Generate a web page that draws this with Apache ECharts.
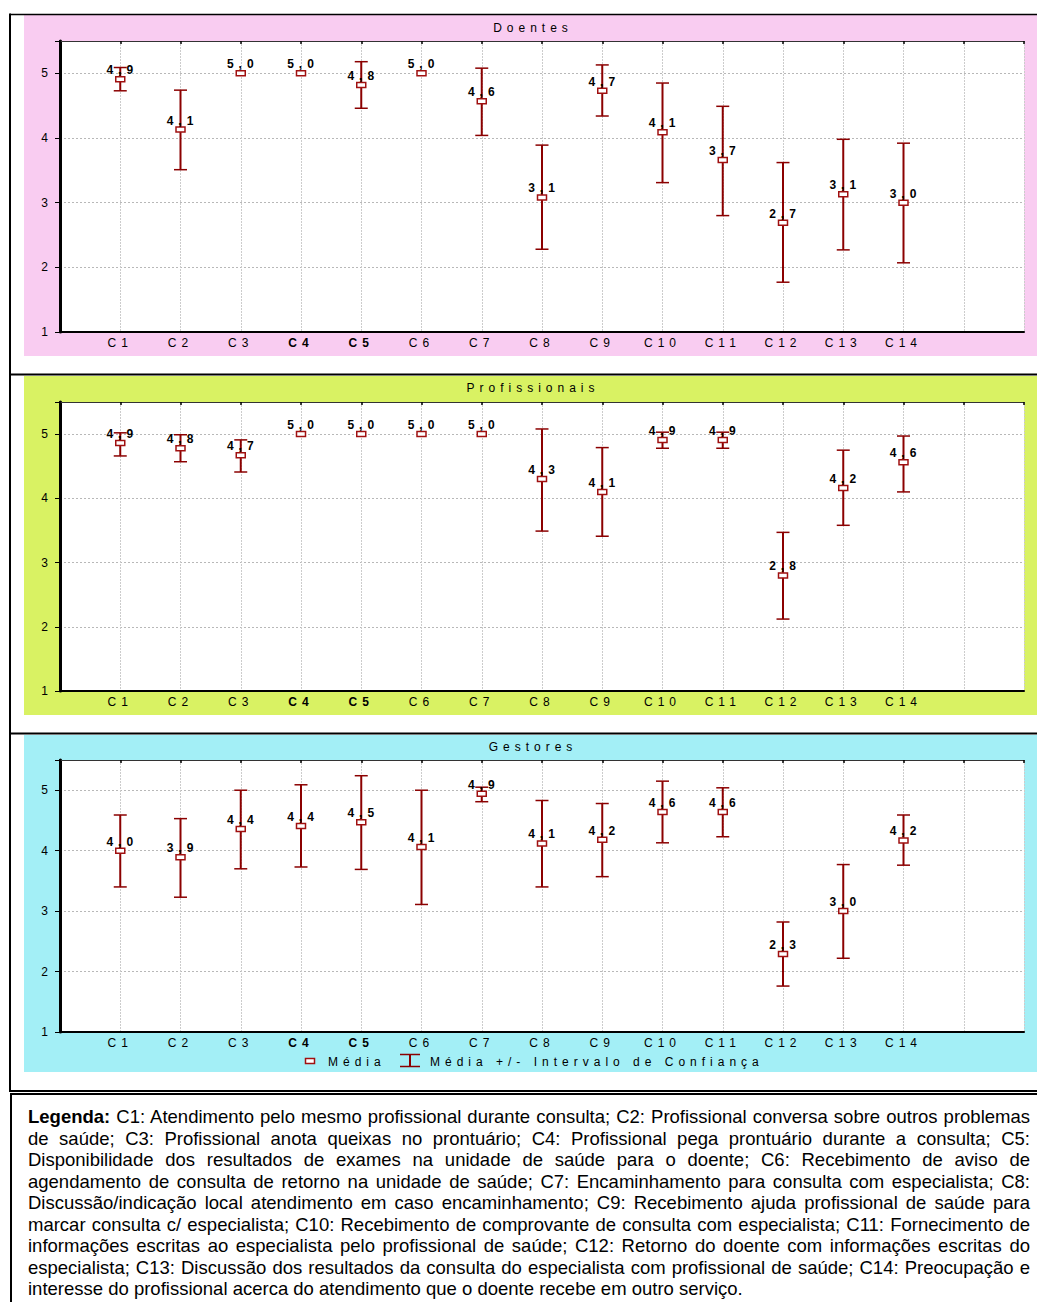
<!DOCTYPE html>
<html>
<head>
<meta charset="utf-8">
<script src="https://cdn.jsdelivr.net/npm/echarts@6/dist/echarts.min.js"></script>
<style>
  body { margin: 0; background: #fff; }
  #chart { position: absolute; left: 0; top: 0; width: 1037px; height: 1302px; }
  #chart text { letter-spacing: 5px; }
  #legenda {
    position: absolute; left: 10px; top: 1093px; width: 1040px; height: 220px;
    border-top: 2px solid #000; border-left: 2px solid #000; box-sizing: border-box;
    padding: 11px 0 0 16px; font-family: 'Liberation Sans', Arial, sans-serif;
    font-size: 18.5px; line-height: 21.5px; color: #000;
  }
  #legenda div { width: 1002px; text-align: justify; text-align-last: justify; white-space: nowrap; }
  #legenda div.last { text-align-last: left; }
</style>
</head>
<body>
<div id="chart"></div>
<div id="legenda">
  <div><b>Legenda:</b> C1: Atendimento pelo mesmo profissional durante consulta; C2: Profissional conversa sobre outros problemas</div>
  <div>de saúde; C3: Profissional anota queixas no prontuário; C4: Profissional pega prontuário durante a consulta; C5:</div>
  <div>Disponibilidade dos resultados de exames na unidade de saúde para o doente; C6: Recebimento de aviso de</div>
  <div>agendamento de consulta de retorno na unidade de saúde; C7: Encaminhamento para consulta com especialista; C8:</div>
  <div>Discussão/indicação local atendimento em caso encaminhamento; C9: Recebimento ajuda profissional de saúde para</div>
  <div>marcar consulta c/ especialista; C10: Recebimento de comprovante de consulta com especialista; C11: Fornecimento de</div>
  <div>informações escritas ao especialista pelo profissional de saúde; C12: Retorno do doente com informações escritas do</div>
  <div>especialista; C13: Discussão dos resultados da consulta do especialista com profissional de saúde; C14: Preocupação e</div>
  <div class="last">interesse do profissional acerca do atendimento que o doente recebe em outro serviço.</div>
</div>
<script>
let categories = ['C1', 'C2', 'C3', 'C4', 'C5', 'C6', 'C7', 'C8', 'C9', 'C10', 'C11', 'C12', 'C13', 'C14'];
let boldCats = ['C4', 'C5'];
let yTicks = [1, 2, 3, 4, 5];

// Doentes
let doentesMean = [4.91, 4.13, 5.0, 5.0, 4.82, 5.0, 4.57, 3.08, 4.73, 4.09, 3.66, 2.69, 3.13, 3.00];
let doentesLow  = [4.73, 3.51, 5.0, 5.0, 4.46, 5.0, 4.04, 2.28, 4.34, 3.31, 2.80, 1.77, 2.27, 2.07];
let doentesHigh = [5.09, 4.74, 5.0, 5.0, 5.18, 5.0, 5.08, 3.89, 5.13, 4.85, 4.49, 3.62, 3.98, 3.92];

// Profissionais
let profMean = [4.86, 4.78, 4.67, 5.0, 5.0, 5.0, 5.0, 4.30, 4.10, 4.91, 4.91, 2.80, 4.16, 4.56];
let profLow  = [4.66, 4.57, 4.41, 5.0, 5.0, 5.0, 5.0, 3.49, 3.41, 4.78, 4.78, 2.12, 3.58, 4.10];
let profHigh = [5.02, 4.99, 4.91, 5.0, 5.0, 5.0, 5.0, 5.08, 4.79, 5.03, 5.03, 3.47, 4.75, 4.97];

// Gestores
let gestMean = [4.00, 3.89, 4.36, 4.41, 4.47, 4.06, 4.94, 4.12, 4.18, 4.64, 4.64, 2.29, 3.00, 4.17];
let gestLow  = [3.40, 3.23, 3.70, 3.73, 3.69, 3.11, 4.81, 3.40, 3.57, 4.13, 4.23, 1.76, 2.22, 3.76];
let gestHigh = [4.59, 4.53, 5.00, 5.09, 5.24, 5.00, 5.05, 4.83, 4.78, 5.15, 5.04, 2.82, 3.77, 4.59];

let RED = '#8b0000';
let FONT = 'Liberation Sans';

let panels = [
    {name: 'Doentes', bg: '#f9ccf1', bgTop: 15, bgH: 341, top: 41, height: 291, titleTop: 21.5, mean: doentesMean, low: doentesLow, high: doentesHigh},
    {name: 'Profissionais', bg: '#d9f263', bgTop: 376, bgH: 339, top: 402, height: 289, titleTop: 382, mean: profMean, low: profLow, high: profHigh},
    {name: 'Gestores', bg: '#a3eff6', bgTop: 735, bgH: 337, top: 760, height: 272, titleTop: 741, mean: gestMean, low: gestLow, high: gestHigh}
];

function fmtLabel(v) {
    return (Math.round(v * 10) / 10).toFixed(1).replace('.', ',');
}

function renderErrBar(params, api) {
    let x = api.value(0);
    let m = api.value(1), lo = api.value(2), hi = api.value(3);
    let pm = api.coord([x, m]);
    let pl = api.coord([x, lo]);
    let ph = api.coord([x, hi]);
    let children = [];
    if (hi - lo > 0.001) {
        children.push({type: 'line', shape: {x1: pm[0], y1: ph[1], x2: pm[0], y2: pl[1]}, style: {stroke: RED, lineWidth: 2}});
        children.push({type: 'line', shape: {x1: pm[0] - 6.5, y1: ph[1], x2: pm[0] + 6.5, y2: ph[1]}, style: {stroke: RED, lineWidth: 1.5}});
        children.push({type: 'line', shape: {x1: pm[0] - 6.5, y1: pl[1], x2: pm[0] + 6.5, y2: pl[1]}, style: {stroke: RED, lineWidth: 1.5}});
    }
    children.push({type: 'rect', shape: {x: pm[0] - 4.5, y: pm[1] - 2.5, width: 9, height: 5},
        style: {fill: '#fff', stroke: '#a01010', lineWidth: 1.5}});
    children.push({type: 'text', style: {text: fmtLabel(m), x: pm[0] + 2, y: pm[1] - 9, align: 'center', verticalAlign: 'middle',
        fill: '#000', font: 'bold 12px "' + FONT + '"'}});
    return {type: 'group', children: children};
}

let grids = [], xAxes = [], yAxes = [], series = [], titles = [], graphics = [];

panels.forEach(function (p, i) {
    graphics.push({type: 'rect', z: -5, shape: {x: 24, y: p.bgTop, width: 1013, height: p.bgH}, style: {fill: p.bg}});
    titles.push({text: p.name, left: 533, top: p.titleTop, textAlign: 'center', padding: 0,
        textStyle: {fontSize: 12, fontWeight: 'normal', color: '#000', fontFamily: FONT, lineHeight: 12}});
    grids.push({left: 60, width: 964, top: p.top, height: p.height, show: true, backgroundColor: '#fff', borderWidth: 0});

    xAxes.push({
        type: 'value', gridIndex: i, min: 0, max: 16, interval: 1, position: 'bottom',
        axisLine: {lineStyle: {color: '#000', width: 2}},
        axisTick: {show: false},
        axisLabel: {
            margin: 5, fontSize: 12, color: '#000', fontFamily: FONT,
            formatter: function (v) {
                let c = categories[v - 1];
                if (!c) return '';
                return boldCats.indexOf(c) >= 0 ? '{b|' + c + '}' : c;
            },
            rich: {b: {fontWeight: 'bold', fontSize: 12, color: '#000', fontFamily: FONT}}
        },
        splitLine: {show: true, lineStyle: {color: '#cccccc', type: [2, 1], width: 1}}
    });
    xAxes.push({
        type: 'value', gridIndex: i, min: 0, max: 16, interval: 1, position: 'top',
        axisLine: {lineStyle: {color: '#333', width: 1}},
        axisTick: {show: true, inside: true, length: 3, lineStyle: {color: '#000', width: 1.5}},
        axisLabel: {show: false}, splitLine: {show: false}
    });
    yAxes.push({
        type: 'value', gridIndex: i, min: 1, max: 5.5, interval: 1, position: 'left',
        axisLine: {show: true, lineStyle: {color: '#000', width: 2}},
        axisTick: {show: false},
        axisLabel: {
            margin: 7, fontSize: 12, color: '#000', fontFamily: FONT,
            formatter: function (v) { return yTicks.indexOf(v) >= 0 ? String(v) : ''; }
        },
        splitLine: {show: true, lineStyle: {color: '#b8b8b8', type: [2, 2], width: 1}}
    });
    yAxes.push({
        type: 'value', gridIndex: i, min: 1, max: 5.5, interval: 1, position: 'right',
        axisLine: {show: true, lineStyle: {color: '#000', width: 3}},
        axisTick: {show: true, inside: true, length: 5, lineStyle: {color: '#000', width: 1}},
        axisLabel: {show: false}, splitLine: {show: false}
    });

    let data = categories.map(function (c, k) {
        return [k + 1, p.mean[k], p.low[k], p.high[k]];
    });
    series.push({
        type: 'custom', silent: true, xAxisIndex: i * 2, yAxisIndex: i * 2,
        renderItem: renderErrBar, encode: {x: 0, y: 1}, data: data, z: 10
    });
});

// frame lines
let frame = [
    [10, 14.5, 1037, 14.5, 1.5],
    [10, 374.5, 1037, 374.5, 2],
    [10, 733.5, 1037, 733.5, 2],
    [10, 1091, 1037, 1091, 2],
    [10, 13.5, 10, 1092, 2]
];
frame.forEach(function (f) {
    graphics.push({type: 'line', z: 50, shape: {x1: f[0], y1: f[1], x2: f[2], y2: f[3]}, style: {stroke: '#000', lineWidth: f[4]}});
});

// legend
graphics.push({type: 'rect', z: 50, shape: {x: 305.5, y: 1058.5, width: 9, height: 5}, style: {fill: '#fff', stroke: '#a01010', lineWidth: 1.5}});
graphics.push({type: 'text', z: 50, style: {text: 'Média', x: 328, y: 1061.5, verticalAlign: 'middle', fill: '#000', font: '12px "' + FONT + '"'}});
graphics.push({type: 'line', z: 50, shape: {x1: 410, y1: 1054.5, x2: 410, y2: 1066.5}, style: {stroke: RED, lineWidth: 2}});
graphics.push({type: 'line', z: 50, shape: {x1: 400, y1: 1054.5, x2: 420, y2: 1054.5}, style: {stroke: RED, lineWidth: 1.5}});
graphics.push({type: 'line', z: 50, shape: {x1: 400, y1: 1066.5, x2: 420, y2: 1066.5}, style: {stroke: RED, lineWidth: 1.5}});
graphics.push({type: 'text', z: 50, style: {text: 'Média +/- Intervalo de Confiança', x: 430, y: 1061.5, verticalAlign: 'middle', fill: '#000', font: '12px "' + FONT + '"'}});

let myChart = echarts.init(document.getElementById('chart'), null, {renderer: 'svg'});
myChart.setOption({
    animation: false,
    textStyle: {fontFamily: FONT},
    title: titles,
    grid: grids,
    xAxis: xAxes,
    yAxis: yAxes,
    series: series,
    graphic: graphics
});

// keep each legend line inside the box
document.querySelectorAll('#legenda div').forEach(function (d) {
    let over = d.scrollWidth - d.clientWidth;
    if (over > 0) {
        d.style.letterSpacing = (-(over + 2) / d.textContent.length) + 'px';
    }
});
</script>
</body>
</html>
